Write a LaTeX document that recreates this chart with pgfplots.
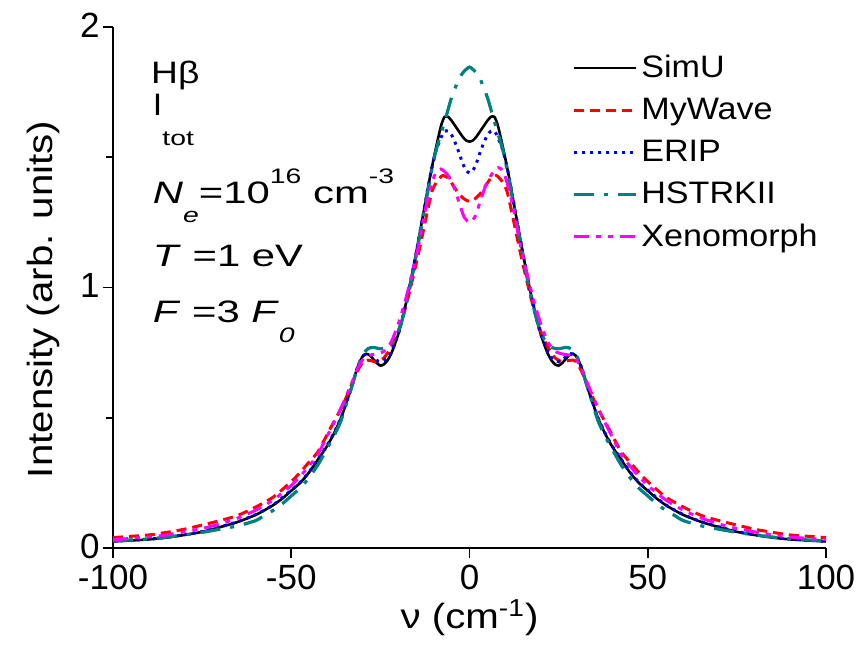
\documentclass[border=0pt]{standalone}
\usepackage{fontspec}
\setmainfont{Liberation Sans}
\newfontfamily\annfont[FakeStretch=1.35]{Liberation Sans}
\newfontfamily\legfont[FakeStretch=1.1]{Liberation Sans}
\newfontfamily\hbfont[FakeStretch=1.2]{Liberation Sans}
\newfontfamily\labfont[FakeStretch=1.15]{Liberation Sans}
\usepackage{pgfplots}
\pgfplotsset{compat=1.18}
\usepackage{pgfplotstable}
\definecolor{cred}{RGB}{255,0,0}
\definecolor{cblue}{RGB}{0,0,235}
\definecolor{cteal}{RGB}{0,128,128}
\definecolor{cmag}{RGB}{255,0,255}

\pgfplotstableread{
x y
-100 0.025
-90 0.033
-85 0.04
-80 0.05
-75 0.062
-70 0.08
-65 0.10
-60 0.127
-57.5 0.145
-55 0.165
-52.5 0.19
-50 0.22
-47.5 0.25
-45 0.29
-42.5 0.34
-40 0.39
-38 0.44
-36 0.50
-34.5 0.56
-33 0.62
-31.5 0.69
-30 0.735
-29 0.745
-28 0.74
-27 0.725
-26 0.71
-25 0.70
-24 0.705
-23 0.72
-22 0.745
-21 0.78
-20 0.82
-19 0.87
-17 0.99
-15 1.13
-13 1.28
-11 1.43
-9.5 1.53
-8 1.62
-7 1.655
-6 1.655
-5 1.64
-4 1.62
-3 1.60
-2 1.58
-1 1.565
0 1.56
1 1.565
2 1.58
3 1.60
4 1.62
5 1.64
6 1.655
7 1.655
8 1.62
9.5 1.53
11 1.43
13 1.28
15 1.13
17 0.99
19 0.87
20 0.82
21 0.78
22 0.745
23 0.72
24 0.705
25 0.70
26 0.71
27 0.725
28 0.74
29 0.745
30 0.735
31.5 0.69
33 0.62
34.5 0.56
36 0.50
38 0.44
40 0.39
42.5 0.34
45 0.29
47.5 0.25
50 0.22
52.5 0.19
55 0.165
57.5 0.145
60 0.127
65 0.10
70 0.08
75 0.062
80 0.05
85 0.04
90 0.033
100 0.025
}\simu

\pgfplotstableread{
x y
-100 0.04
-90 0.05
-85 0.06
-80 0.072
-75 0.088
-70 0.105
-65 0.125
-60 0.157
-55 0.196
-50 0.255
-47.5 0.29
-45 0.33
-42.5 0.37
-39 0.46
-37 0.51
-35 0.565
-33 0.63
-31 0.69
-29.5 0.72
-28 0.72
-26 0.715
-24 0.73
-22 0.77
-20 0.83
-18 0.92
-16 1.03
-14 1.15
-12 1.28
-10.5 1.37
-9 1.41
-7.5 1.43
-6 1.42
-4.5 1.39
-3 1.36
-1.5 1.34
0 1.33
1.5 1.34
3 1.36
4.5 1.39
6 1.42
7.5 1.43
9 1.41
10.5 1.37
12 1.28
14 1.15
16 1.03
18 0.92
20 0.83
22 0.77
24 0.73
26 0.715
28 0.72
29.5 0.72
31 0.69
33 0.63
35 0.565
37 0.51
39 0.46
42.5 0.37
45 0.33
47.5 0.29
50 0.255
55 0.196
60 0.157
65 0.125
70 0.105
75 0.088
80 0.072
85 0.06
90 0.05
100 0.04
}\mywave

\pgfplotstableread{
x y
-100 0.026
-90 0.034
-85 0.041
-80 0.051
-75 0.063
-70 0.081
-65 0.101
-60 0.128
-55 0.166
-50 0.222
-47.5 0.252
-45 0.292
-42.5 0.342
-40 0.392
-38 0.442
-36 0.502
-34.5 0.56
-33 0.62
-31.5 0.69
-30 0.735
-29 0.745
-28 0.745
-27 0.735
-26 0.72
-25 0.715
-24 0.72
-23 0.73
-22 0.75
-21 0.785
-20 0.82
-19 0.87
-17 0.99
-15 1.13
-13 1.28
-11 1.43
-9.5 1.52
-8 1.575
-7 1.60
-6 1.60
-5 1.585
-4 1.555
-3 1.52
-2 1.48
-1 1.45
0 1.44
1 1.45
2 1.48
3 1.52
4 1.555
5 1.585
6 1.60
7 1.60
8 1.575
9.5 1.52
11 1.43
13 1.28
15 1.13
17 0.99
19 0.87
20 0.82
21 0.785
22 0.75
23 0.73
24 0.72
25 0.715
26 0.72
27 0.735
28 0.745
29 0.745
30 0.735
31.5 0.69
33 0.62
34.5 0.56
36 0.502
38 0.442
40 0.392
42.5 0.342
45 0.292
47.5 0.252
50 0.222
55 0.166
60 0.128
65 0.101
70 0.081
75 0.063
80 0.051
85 0.041
90 0.034
100 0.026
}\erip

\pgfplotstableread{
x y
-100 0.027
-90 0.035
-85 0.042
-80 0.05
-75 0.06
-70 0.072
-65 0.085
-60 0.105
-57.5 0.125
-55 0.145
-52.5 0.17
-50 0.20
-47.5 0.23
-45 0.27
-42.5 0.32
-40 0.38
-38 0.43
-36 0.49
-34.5 0.555
-33 0.62
-31.5 0.69
-30 0.74
-28.5 0.765
-27 0.77
-25 0.765
-23 0.77
-21 0.80
-19 0.87
-17 0.98
-15 1.12
-13 1.27
-11 1.42
-9.5 1.52
-8 1.59
-6.5 1.66
-5 1.73
-3 1.80
-1.5 1.83
0 1.846
1.5 1.83
3 1.80
5 1.73
6.5 1.66
8 1.59
9.5 1.52
11 1.42
13 1.27
15 1.12
17 0.98
19 0.87
21 0.80
23 0.77
25 0.765
27 0.77
28.5 0.765
30 0.74
31.5 0.69
33 0.62
34.5 0.555
36 0.49
38 0.43
40 0.38
42.5 0.32
45 0.27
47.5 0.23
50 0.20
52.5 0.17
55 0.145
57.5 0.125
60 0.105
65 0.085
70 0.072
75 0.06
80 0.05
85 0.042
90 0.035
100 0.027
}\hstrk

\pgfplotstableread{
x y
-100 0.032
-90 0.042
-85 0.05
-80 0.062
-75 0.075
-70 0.092
-65 0.115
-60 0.145
-55 0.185
-50 0.24
-47.5 0.275
-45 0.315
-42.5 0.36
-39 0.455
-37 0.51
-35 0.57
-33 0.635
-31 0.70
-29.5 0.73
-28 0.74
-26 0.745
-24 0.755
-22 0.79
-20 0.86
-18 0.95
-16 1.06
-14 1.18
-12.5 1.29
-11 1.38
-9.5 1.44
-8 1.455
-6 1.43
-4.5 1.39
-3 1.33
-1.5 1.27
0 1.25
1.5 1.27
3 1.33
4.5 1.39
6 1.43
8 1.46
9.5 1.445
11 1.38
12.5 1.29
14 1.18
16 1.06
18 0.95
20 0.86
22 0.79
24 0.755
26 0.745
28 0.74
29.5 0.73
31 0.70
33 0.635
35 0.57
37 0.51
39 0.455
42.5 0.36
45 0.315
47.5 0.275
50 0.24
55 0.185
60 0.145
65 0.115
70 0.092
75 0.075
80 0.062
85 0.05
90 0.042
100 0.032
}\xeno

\newcommand{\sm}{\fontsize{10.5}{11}\selectfont}
\begin{document}
\begin{tikzpicture}
\begin{axis}[
  scale only axis,
  width=356.5pt, height=260.5pt,
  xmin=-100, xmax=100, ymin=0, ymax=2,
  axis x line=bottom, axis y line=left,
  axis line style={-, line width=0.9pt},
  tick align=outside,
  major tick length=5pt, minor tick length=3.5pt,
  every tick/.style={black, line width=0.9pt},
  xtick={-100,-50,0,50,100},
  xticklabels={-100,-50,0,50,100},
  ytick={0,1,2}, yticklabels={0,1,2},
  minor ytick={0.5,1.5},
  ticklabel style={font=\fontsize{17.5}{20}\selectfont},
  xticklabel style={inner sep=0pt, yshift=-3.5pt},
  yticklabel style={inner sep=0pt, xshift=-1.5pt, yshift=1pt},
  label style={font=\labfont\fontsize{17.5}{20}\selectfont},
  xlabel={ν (cm\textsuperscript{-1})},
  ylabel={Intensity (arb. units)},
  xlabel style={yshift=-1pt},
  ylabel style={yshift=6.5pt, xshift=-6pt},
  legend cell align=left,
  legend style={at={(rel axis cs:0.635,0.962)}, anchor=north west, draw=none, fill=none,
    font=\legfont\fontsize{15.5}{18}\selectfont, row sep=4.75pt},
  legend image code/.code={\draw[#1] (0pt,0pt) -- (31pt,0pt);},
]
\addplot[black, line width=1.3pt, smooth, tension=0.4] table[x=x,y=y]{\simu};
\addlegendentry{SimU}
\addplot[cred, line width=1.5pt, smooth, tension=0.4, dash pattern=on 5pt off 3pt] table[x=x,y=y]{\mywave};
\addlegendentry{MyWave}
\addplot[cblue, line width=1.5pt, smooth, tension=0.4, dash pattern=on 1.5pt off 2.5pt] table[x=x,y=y]{\erip};
\addlegendentry{ERIP}
\addplot[cteal, line width=1.6pt, smooth, tension=0.4, dash pattern=on 10pt off 5pt on 2pt off 5pt] table[x=x,y=y]{\hstrk};
\addlegendentry{HSTRKII}
\addplot[cmag, line width=1.5pt, smooth, tension=0.4, dash pattern=on 7.5pt off 3.5pt on 2.5pt off 3.5pt on 2.5pt off 3.5pt] table[x=x,y=y]{\xeno};
\addlegendentry{Xenomorph}

\begin{scope}[every node/.style={anchor=base west, font=\annfont\fontsize{15.5}{18}\selectfont, inner sep=0pt}]
\node[font=\hbfont\fontsize{15.5}{18}\selectfont] at (axis cs:-89.4,1.785) {Hβ};
\node at (axis cs:-88.9,1.662) {{\legfont I}\raisebox{-15pt}{\sm tot}};
\node at (axis cs:-88.9,1.324) {\textit{N}\raisebox{-9.5pt}{\sm\textit{e}}=10\raisebox{10pt}{\sm 16} cm\raisebox{10pt}{\sm -3}};
\node at (axis cs:-88.9,1.079) {\textit{T} =1 eV};
\node at (axis cs:-88.9,0.864) {\textit{F} =3 \textit{F}\raisebox{-10pt}{\sm\textit{0}}};
\end{scope}
\coordinate (sw) at (rel axis cs:0,0);
\end{axis}
\pgfresetboundingbox
\path ([shift={(-56.5pt,-52pt)}]sw) rectangle ([shift={(374.5pt,274pt)}]sw);
\end{tikzpicture}
\end{document}
